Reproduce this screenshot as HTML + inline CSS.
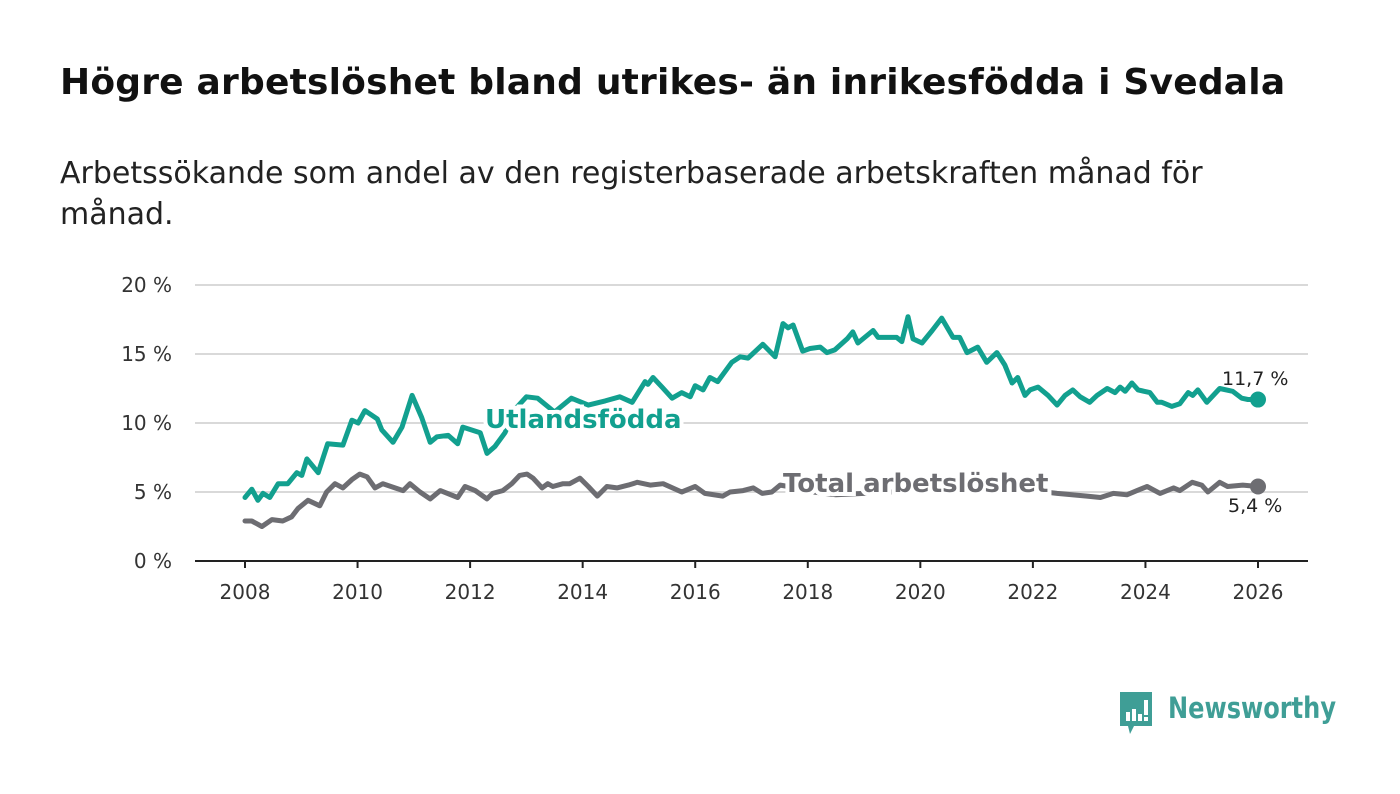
<!DOCTYPE html>
<html><head><meta charset="utf-8">
<style>
body{margin:0;background:#fff;width:1400px;height:794px;overflow:hidden;font-family:"Liberation Sans","DejaVu Sans",sans-serif;}
h1{position:absolute;left:60px;top:62px;margin:0;font-size:36px;font-weight:bold;color:#111;letter-spacing:0.2px;font-family:"DejaVu Sans","Liberation Sans",sans-serif;transform:scaleX(1.0);transform-origin:left;white-space:nowrap;}
.sub{position:absolute;left:60px;top:153px;margin:0;font-size:30px;line-height:41px;color:#222;width:1300px;font-family:"DejaVu Sans","Liberation Sans",sans-serif;white-space:nowrap;}
svg{position:absolute;left:0;top:0;}
</style></head><body>
<h1>Högre arbetslöshet bland utrikes- än inrikesfödda i Svedala</h1>
<p class="sub">Arbetssökande som andel av den registerbaserade arbetskraften månad för<br>månad.</p>
<svg id="chart" width="1400" height="794"></svg>
<div style="position:absolute;left:1118px;top:690px;height:44px;">
 <svg width="36" height="44" style="position:absolute;left:0;top:0">
  <path d="M2,2 H34 V36 H16 L12,44 L10,36 H2 Z" fill="#3f9e96"/>
  <rect x="8" y="22" width="4" height="9" fill="#fff"/><rect x="14" y="19" width="4" height="12" fill="#fff"/><rect x="20" y="24" width="4" height="7" fill="#fff"/><rect x="26" y="10" width="4" height="15" fill="#fff"/><rect x="26" y="27" width="4" height="4" fill="#fff"/>
 </svg>
 <span style="position:absolute;left:50px;top:1px;font-size:29px;font-weight:bold;color:#3f9e96;font-family:'DejaVu Sans','Liberation Sans',sans-serif;white-space:nowrap;transform:scaleX(0.83);transform-origin:left;display:inline-block;">Newsworthy</span>
</div>
<script>
const yTicks=[0,5,10,15,20];
const xTicks=[2008,2010,2012,2014,2016,2018,2020,2022,2024,2026];
const utlYears=[2008.0,2008.12,2008.23,2008.32,2008.44,2008.59,2008.76,2008.92,2009.01,2009.1,2009.3,2009.47,2009.74,2009.9,2010.01,2010.13,2010.35,2010.43,2010.63,2010.79,2010.97,2011.14,2011.29,2011.41,2011.61,2011.78,2011.87,2012.18,2012.3,2012.44,2012.62,2012.8,2013.0,2013.2,2013.5,2013.8,2014.1,2014.4,2014.66,2014.88,2015.11,2015.16,2015.25,2015.41,2015.59,2015.76,2015.91,2016.0,2016.14,2016.26,2016.4,2016.65,2016.8,2016.94,2017.2,2017.42,2017.56,2017.65,2017.74,2017.91,2018.04,2018.22,2018.34,2018.48,2018.7,2018.8,2018.89,2019.16,2019.25,2019.58,2019.67,2019.78,2019.87,2020.03,2020.21,2020.38,2020.58,2020.7,2020.83,2021.02,2021.18,2021.36,2021.5,2021.63,2021.73,2021.86,2021.95,2022.09,2022.27,2022.43,2022.57,2022.71,2022.84,2023.01,2023.14,2023.32,2023.46,2023.55,2023.64,2023.76,2023.87,2024.08,2024.21,2024.29,2024.47,2024.61,2024.76,2024.84,2024.93,2025.09,2025.32,2025.55,2025.71,2025.82,2026.0];
const utlValues=[4.6,5.2,4.4,4.9,4.6,5.6,5.6,6.4,6.2,7.4,6.4,8.5,8.4,10.2,10.0,10.9,10.3,9.5,8.6,9.7,12.0,10.4,8.6,9.0,9.1,8.5,9.7,9.3,7.8,8.3,9.3,11.0,11.9,11.8,10.8,11.8,11.3,11.6,11.9,11.5,13.0,12.8,13.3,12.6,11.8,12.2,11.9,12.7,12.4,13.3,13.0,14.4,14.8,14.7,15.7,14.8,17.2,16.9,17.1,15.2,15.4,15.5,15.1,15.3,16.1,16.6,15.8,16.7,16.2,16.2,15.9,17.7,16.1,15.8,16.7,17.6,16.2,16.2,15.1,15.5,14.4,15.1,14.2,12.9,13.3,12.0,12.4,12.6,12.0,11.3,12.0,12.4,11.9,11.5,12.0,12.5,12.2,12.6,12.3,12.9,12.4,12.2,11.5,11.5,11.2,11.4,12.2,12.0,12.4,11.5,12.5,12.3,11.8,11.7,11.7];
const totYears=[2008.0,2008.12,2008.3,2008.48,2008.67,2008.83,2008.94,2009.12,2009.33,2009.45,2009.6,2009.74,2009.9,2010.04,2010.17,2010.31,2010.45,2010.81,2010.93,2011.11,2011.29,2011.47,2011.78,2011.91,2012.09,2012.3,2012.4,2012.58,2012.74,2012.88,2013.01,2013.12,2013.28,2013.38,2013.47,2013.65,2013.77,2013.95,2014.1,2014.26,2014.43,2014.61,2014.81,2014.97,2015.2,2015.43,2015.76,2016.0,2016.17,2016.49,2016.62,2016.85,2017.03,2017.19,2017.36,2017.51,2017.8,2018.1,2018.5,2019.0,2019.5,2020.0,2020.5,2021.0,2021.5,2022.0,2022.43,2022.96,2023.2,2023.43,2023.67,2023.85,2024.03,2024.26,2024.5,2024.61,2024.83,2025.0,2025.11,2025.32,2025.46,2025.73,2026.0];
const totValues=[2.9,2.9,2.5,3.0,2.9,3.2,3.8,4.4,4.0,5.0,5.6,5.3,5.9,6.3,6.1,5.3,5.6,5.1,5.6,5.0,4.5,5.1,4.6,5.4,5.1,4.5,4.9,5.1,5.6,6.2,6.3,6.0,5.3,5.6,5.4,5.6,5.6,6.0,5.4,4.7,5.4,5.3,5.5,5.7,5.5,5.6,5.0,5.4,4.9,4.7,5.0,5.1,5.3,4.9,5.0,5.5,5.3,5.0,4.8,4.9,5.0,5.5,5.8,5.6,5.3,5.1,4.9,4.7,4.6,4.9,4.8,5.1,5.4,4.9,5.3,5.1,5.7,5.5,5.0,5.7,5.4,5.5,5.4];
const NS='http://www.w3.org/2000/svg';
const svg=document.getElementById('chart');
const X0=195,X1=1308;
const xs=y=>245+(y-2008)*(1258-245)/18;
const ys=v=>561-v*(561-285)/20;
function mk(t,a){const e=document.createElementNS(NS,t);for(const k in a)e.setAttribute(k,a[k]);svg.appendChild(e);return e;}
yTicks.forEach(t=>{
  const l=mk('line',{x1:X0,x2:X1,y1:ys(t),y2:ys(t),stroke:t===0?'#222':'#d9d9d9','stroke-width':2});
  
  
  const tx=mk('text',{x:172,y:ys(t)+7,'text-anchor':'end','font-size':20,fill:'#333','font-family':'DejaVu Sans, Liberation Sans, sans-serif'});
  tx.textContent=t+' %';
  
  
});
xTicks.forEach(t=>{
  const l=mk('line',{x1:xs(t),x2:xs(t),y1:561,y2:568,stroke:'#222','stroke-width':2});
  
  
  const tx=mk('text',{x:xs(t),y:599,'text-anchor':'middle','font-size':20,fill:'#333','font-family':'DejaVu Sans, Liberation Sans, sans-serif'});
  tx.textContent=t;
  
  
});
function series(yrs,vals,color,name){
  const d=yrs.map((y,i)=>(i?'L':'M')+xs(y).toFixed(1)+','+ys(vals[i]).toFixed(1)).join('');
  const p=mk('path',{d:d,fill:'none',stroke:color,'stroke-width':5,'stroke-linejoin':'round','stroke-linecap':'round'});
  
  
  const n=yrs.length-1;
  const c=mk('circle',{cx:xs(yrs[n]),cy:ys(vals[n]),r:8,fill:color});
  
  
}
series(totYears,totValues,'#6d6d72','total');
series(utlYears,utlValues,'#12a08f','utlandsfodda');
function lbl(x,y,txt,color,size,weight,name){
  const t=mk('text',{x:x,y:y,'font-size':size,'font-weight':weight,fill:color,stroke:'#fff','stroke-width':size>22?8:0,'paint-order':'stroke','font-family':'DejaVu Sans, Liberation Sans, sans-serif'});
  t.textContent=txt;
  
  
}
lbl(485,428,'Utlandsfödda','#12a08f',26,'bold','series-label-utlandsfodda');
lbl(783,492,'Total arbetslöshet','#6d6d72',26,'bold','series-label-total');
lbl(1222,385,'11,7 %','#222',19,'normal','end-value-utlandsfodda');
lbl(1228,512,'5,4 %','#222',19,'normal','end-value-total');
</script>
</body></html>
